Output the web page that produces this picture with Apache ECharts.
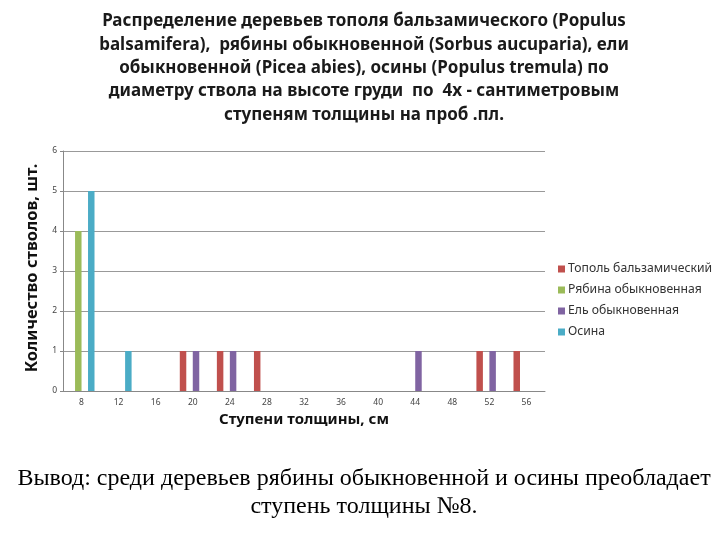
<!DOCTYPE html>
<html><head><meta charset="utf-8">
<script src="https://cdn.jsdelivr.net/npm/echarts@6/dist/echarts.min.js"></script>
<style>html,body{margin:0;padding:0;background:#fff}#c{width:720px;height:540px}</style>
</head><body><div id="c"></div>
<script>
const categories = ['8','12','16','20','24','28','32','36','40','44','48','52','56'];
const seriesNames = ['Тополь бальзамический','Рябина обыкновенная','Ель обыкновенная','Осина'];
const topol = [null,null,null,1,1,1,null,null,null,null,null,1,1];
const ryabina = [4,null,null,null,null,null,null,null,null,null,null,null,null];
const el = [null,null,null,1,1,null,null,null,null,1,null,1,null];
const osina = [5,1,null,null,null,null,null,null,null,null,null,null,null];
const yTicks = [0,1,2,3,4,5,6];
const colors = ['#C0504D','#9BBB59','#8064A2','#4BACC6'];

const chart = echarts.init(document.getElementById('c'), null, {renderer:'canvas'});
const data = [topol, ryabina, el, osina];
chart.setOption({
  animation:false,
  color: colors,
  title:[
    {text:'Распределение деревьев тополя бальзамического (Populus\nbalsamifera),  рябины обыкновенной (Sorbus aucuparia), ели\nобыкновенной (Picea abies), осины (Populus tremula) по\nдиаметру ствола на высоте груди  по  4х - сантиметровым\nступеням толщины на проб .пл.',
     left:359, top:5, textAlign:'center',
     textStyle:{fontFamily:'Noto Sans', fontWeight:'bold', fontSize:17, lineHeight:23.3, color:'#1a1a1a'}},
    {text:'Вывод: среди деревьев рябины обыкновенной и осины преобладает\nступень толщины №8.',
     left:359, top:459, textAlign:'center',
     textStyle:{fontFamily:'Liberation Serif', fontWeight:'normal', fontSize:24, lineHeight:28.5, color:'#000'}}
  ],
  legend:{
    orient:'vertical', left:553, top:258, itemGap:9, itemWidth:7, itemHeight:7, icon:'rect',
    textStyle:{fontFamily:'Noto Sans', fontSize:12.2, color:'#333', padding:[0,0,0,-2]},
    data: seriesNames
  },
  grid:{left:63, right:175, top:151, bottom:149, containLabel:false},
  xAxis:{
    type:'category', data:categories,
    name:'Ступени толщины, см', nameLocation:'middle', nameGap:21,
    nameTextStyle:{fontFamily:'Noto Sans', fontSize:15, color:'#111', fontWeight:'bold'},
    axisLine:{lineStyle:{color:'#888'}}, axisTick:{show:false},
    axisLabel:{fontFamily:'Noto Sans', fontSize:8.5, color:'#444', margin:7}
  },
  yAxis:{
    type:'value', min:0, max:6, interval:1,
    name:'Количество стволов, шт.', nameLocation:'middle', nameGap:18,
    nameTextStyle:{fontFamily:'Noto Sans', fontSize:16.5, color:'#111', fontWeight:'bold', padding:[0,0,0,6]},
    axisLine:{show:true, lineStyle:{color:'#888'}},
    axisTick:{show:true, length:3, lineStyle:{color:'#888'}},
    splitLine:{lineStyle:{color:'#999'}},
    axisLabel:{fontFamily:'Noto Sans', fontSize:8.5, color:'#444', margin:6,
      formatter: v => yTicks.includes(v) ? String(v) : ''}
  },
  series: seriesNames.map((n,i)=>({
    name:n, type:'bar', data:data[i], barGap:'0%', barCategoryGap:'30%'
  }))
});
</script></body></html>
